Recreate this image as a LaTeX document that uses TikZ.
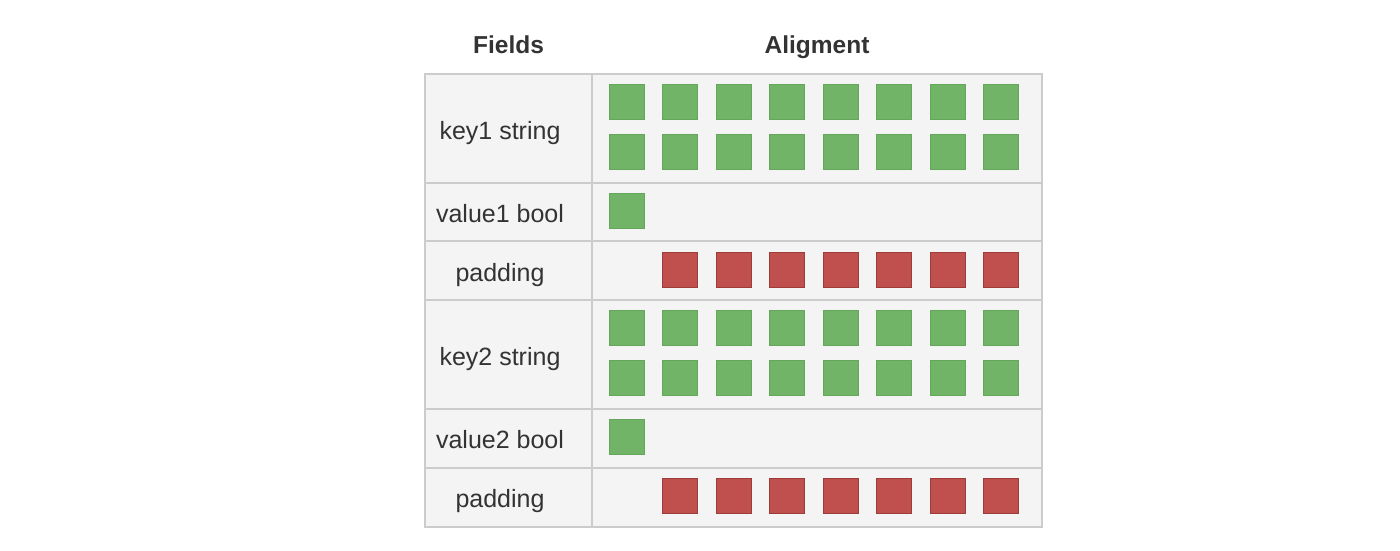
\documentclass[tikz,border=0pt]{standalone}
\usepackage{fontspec}
\setmainfont{Liberation Sans}
\definecolor{gridc}{HTML}{CCCCCC}
\definecolor{cellbg}{HTML}{F4F4F4}
\definecolor{gfill}{HTML}{72B467}
\definecolor{gdraw}{HTML}{64A75A}
\definecolor{rfill}{HTML}{C0504D}
\definecolor{rdraw}{HTML}{9E3C39}
\definecolor{txt}{HTML}{333333}
\begin{document}
\begin{tikzpicture}[x=1pt,y=-1pt,
  cell/.style={draw=gridc,line width=1.5pt,fill=cellbg,inner sep=0pt,outer sep=0pt,anchor=north west},
  gsq/.style={draw=gdraw,fill=gfill,line width=1pt,minimum size=35pt,inner sep=0pt,anchor=north west},
  rsq/.style={draw=rdraw,fill=rfill,line width=1pt,minimum size=35pt,inner sep=0pt,anchor=north west},
  lbl/.style={font=\fontsize{25}{29}\selectfont,text=txt,anchor=base},
  hdr/.style={font=\fontsize{24.5}{28}\selectfont\bfseries,text=txt,anchor=base}]
\useasboundingbox (0,0) rectangle (1400,551);
% headings
\node[hdr] (hf) at (508.5,53.5) {Fields};
\node[hdr] (ha) at (817,53.5) {Aligment};
% cells
\foreach \i/\t/\b in {1/74/183,2/183/241,3/241/300,4/300/409,5/409/468,6/468/527}{
  \pgfmathsetmacro{\h}{\b-\t}
  \node[cell,minimum width=167pt,minimum height=\h pt] (f\i) at (425,\t) {};
  \node[cell,minimum width=450pt,minimum height=\h pt] (a\i) at (592,\t) {};
}
% labels
\node[lbl] (l1) at (500,139) {key1 string};
\node[lbl] (l2) at (500,222) {value1 bool};
\node[lbl] (l3) at (500,281) {padding};
\node[lbl] (l4) at (500,365) {key2 string};
\node[lbl] (l5) at (500,448) {value2 bool};
\node[lbl] (l6) at (500,507) {padding};
% squares
\foreach \k in {0,...,7}{
  \node[gsq] (k1a\k) at (609+53.45*\k,84) {};
  \node[gsq] (k1b\k) at (609+53.45*\k,134) {};
  \node[gsq] (k2a\k) at (609+53.45*\k,310) {};
  \node[gsq] (k2b\k) at (609+53.45*\k,360) {};
}
\node[gsq] (v1) at (609,193) {};
\node[gsq] (v2) at (609,418.5) {};
\foreach \k in {1,...,7}{
  \node[rsq] (p1\k) at (609+53.45*\k,252) {};
  \node[rsq] (p2\k) at (609+53.45*\k,478) {};
}
\end{tikzpicture}
\end{document}
